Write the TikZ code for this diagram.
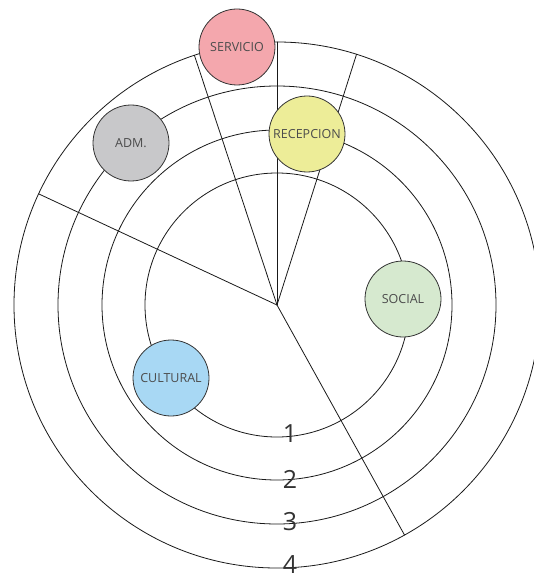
\documentclass[tikz,border=0pt]{standalone}
\usepackage{fontspec}
\setmainfont{Open Sans}
\definecolor{servrosa}{HTML}{F4A7AD}
\definecolor{recamar}{HTML}{EDED98}
\definecolor{admgris}{HTML}{C8C8CA}
\definecolor{cultazul}{HTML}{A8D8F4}
\definecolor{socverde}{HTML}{D6E9CF}
\begin{document}
\begin{tikzpicture}[x=1pt,y=-1pt,line join=round,line cap=round,
	anillo/.style={line width=0.8pt,draw=black!90},
	zona/.style={circle,draw=black!80,line width=0.8pt,minimum size=76pt,inner sep=0pt,
		font=\fontsize{12.5}{14}\selectfont,text=black!70},
	cifra/.style={inner sep=0pt,font=\fontsize{25}{27}\selectfont,text=black!80}]
	\useasboundingbox (0,0) rectangle (534,580);
	\path (277,305) coordinate (O);
	% anillos
	\foreach \r in {132,175,219,263}
	\draw[anillo] (O) circle[radius=\r pt];
	% radios
	\foreach \n/\a in {e1/155,e2/108.3,e3/90,e4/72.4,e5/-61}
	{\path (O) ++(\a:263pt) coordinate (\n);
	\draw[anillo] (O)--(\n);}
	% zonas
	\node[zona,fill=servrosa] (servicio) at (237,47) {SERVICIO};
	\node[zona,fill=recamar] (recepcion) at (307,134) {RECEPCION};
	\node[zona,fill=admgris] (adm) at (131,143) {ADM.};
	\node[zona,fill=cultazul] (cultural) at (171,378) {CULTURAL};
	\node[zona,fill=socverde] (social) at (403,299) {SOCIAL};
	% numeros
	\foreach \n/\y in {1/434,2/479,3/522,4/565}
	\node[cifra] (n\n) at (290,\y) {\n};
\end{tikzpicture}
\end{document}
